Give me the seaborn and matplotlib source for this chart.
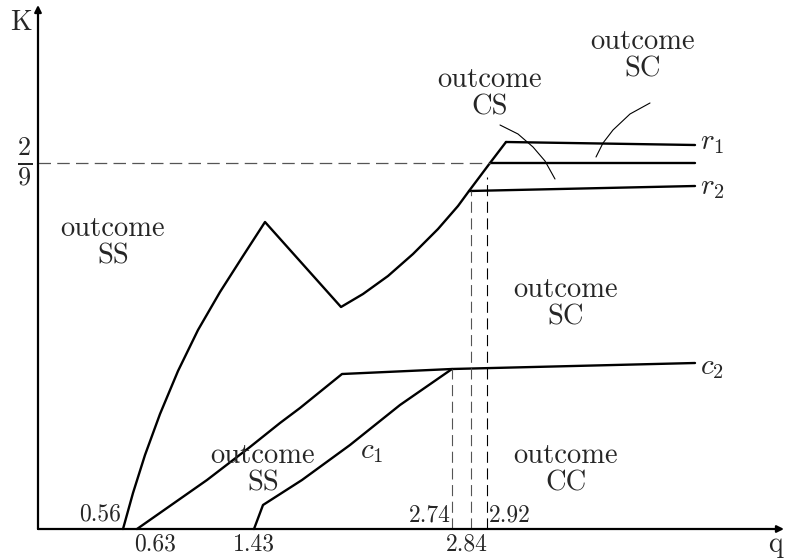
import matplotlib
matplotlib.use("Agg")
import matplotlib.pyplot as plt
import seaborn as sns

# schematic coordinates (origin at the axes corner)
big_x = [85, 95, 107, 122, 140, 160, 182, 205, 227,
         303, 325, 350, 375, 400, 420, 431, 452, 468]
big_y = [0, 36, 74, 115, 158, 199, 237, 273, 307,
         222, 235, 253, 275, 300, 323, 338, 366, 387]

r1_x = [468, 657]
r1_y = [387, 384]
mid_x = [452, 657]
mid_y = [366, 366]
r2_x = [431, 657]
r2_y = [338, 343]

c2_x = [99, 169, 212, 242, 262, 304, 414, 657]
c2_y = [0, 49, 82, 106, 121, 155, 160, 166]
c1_x = [216, 225, 264, 312, 362, 414]
c1_y = [0, 24, 49, 84, 124, 160]

# pointer arcs
cs_arc_x = [462, 480, 495, 507, 517]
cs_arc_y = [404, 395, 382, 368, 350]
sc_arc_x = [612, 592, 575, 565, 558]
sc_arc_y = [426, 415, 399, 386, 372]

k_level = 366
q_marks = {"2.74": (414, 160), "2.84": (433, 338), "2.92": (449, 352)}

sns.set_theme(style="white")
plt.rcParams["font.family"] = ["cmr10", "DejaVu Serif"]
plt.rcParams["mathtext.fontset"] = "cm"
plt.rcParams["axes.unicode_minus"] = False

fig = plt.figure(figsize=(7.87, 5.59), dpi=100)
ax = fig.add_axes([0, 0, 1, 1])
ax.set_xlim(-38, 749)
ax.set_ylim(-30, 529)
ax.axis("off")

# main curves
for xs, ys in [(big_x, big_y), (r1_x, r1_y), (mid_x, mid_y), (r2_x, r2_y),
               (c2_x, c2_y), (c1_x, c1_y)]:
    sns.lineplot(x=xs, y=ys, sort=False, estimator=None, color="black",
                 lw=1.7, ax=ax)

for xs, ys in [(cs_arc_x, cs_arc_y), (sc_arc_x, sc_arc_y)]:
    sns.lineplot(x=xs, y=ys, sort=False, estimator=None, color="black",
                 lw=0.8, ax=ax)

# dashed guides
ax.plot([0, 452], [k_level, k_level], color="#555555", lw=0.9, dashes=(10, 5))
for lab, (xv, top) in q_marks.items():
    col = "black" if lab == "2.92" else "#555555"
    ax.plot([xv, xv], [0, top], color=col, lw=0.8, dashes=(10, 5))

# axes with arrows
ax.annotate("", xy=(0, 524), xytext=(0, 0),
            arrowprops=dict(arrowstyle="-|>", color="black", lw=1.6,
                            mutation_scale=10, shrinkA=0, shrinkB=0))
ax.annotate("", xy=(746, 0), xytext=(0, 0),
            arrowprops=dict(arrowstyle="-|>", color="black", lw=1.6,
                            mutation_scale=10, shrinkA=0, shrinkB=0))

ax.text(-17, 506, "K", fontsize=20, ha="center", va="center")
ax.text(737, -16, "q", fontsize=20, ha="center", va="center")
ax.text(-13, 366, r"$\frac{2}{9}$", fontsize=27, ha="center", va="center")

tick_fs = 17
ax.text(83, 15, "0.56", fontsize=tick_fs, ha="right", va="center")
ax.text(117, -15, "0.63", fontsize=tick_fs, ha="center", va="center")
ax.text(216, -15, "1.43", fontsize=tick_fs, ha="center", va="center")
ax.text(429, -15, "2.84", fontsize=tick_fs, ha="center", va="center")
ax.text(413, 14, "2.74", fontsize=tick_fs, ha="right", va="center")
ax.text(451, 14, "2.92", fontsize=tick_fs, ha="left", va="center")

out_fs = 20.5
regions = [("SS", 75, 286), ("CS", 452, 435), ("SC", 605, 473),
           ("SC", 528, 225), ("SS", 225, 59), ("CC", 528, 59)]
for name, xv, yv in regions:
    ax.text(xv, yv, "outcome\n" + name, fontsize=out_fs, ha="center",
            va="center", linespacing=1.05)

ax.text(662, 386, r"$r_1$", fontsize=21, ha="left", va="center")
ax.text(662, 341, r"$r_2$", fontsize=21, ha="left", va="center")
ax.text(662, 161, r"$c_2$", fontsize=21, ha="left", va="center")
ax.text(322, 77, r"$c_1$", fontsize=21, ha="left", va="center")

fig.savefig("out.png", dpi=100)
